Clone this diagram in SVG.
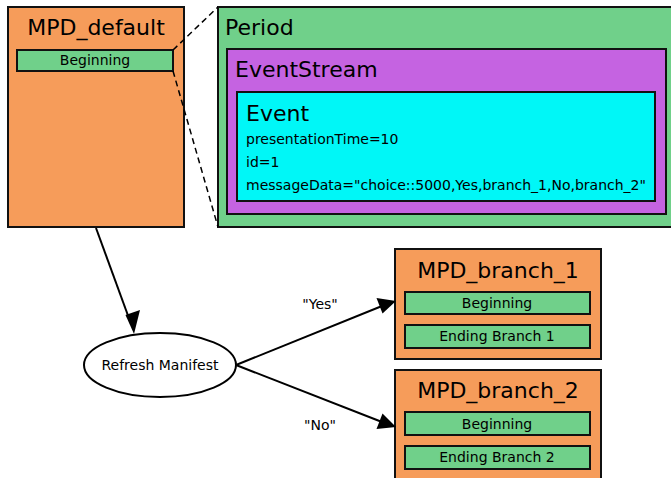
<svg xmlns="http://www.w3.org/2000/svg" width="671" height="478" viewBox="0 0 671 478">
  <style>
    text { font-family: "DejaVu Sans", sans-serif; fill: #000; }
    .box { stroke: #111; stroke-width: 2; }
    .mpd { fill: #f69c5a; }
    .seg { fill: #70d08a; }
    .title { font-size: 22px; }
    .small { font-size: 14px; }
    .mid { text-anchor: middle; }
    .edge { stroke: #000; stroke-width: 2; fill: none; }
    .dash { stroke: #000; stroke-width: 1.5; stroke-dasharray: 6 4; fill: none; }
    .head { fill: #000; }
  </style>

  <!-- default manifest -->
  <g id="mpd_default">
    <rect class="box mpd" x="8" y="7" width="176" height="220"/>
    <text class="title mid" x="96" y="35">MPD_default</text>
    <rect class="box seg" x="17" y="50" width="156" height="21"/>
    <text class="small mid" x="95" y="65">Beginning</text>
  </g>

  <!-- period detail -->
  <g id="period">
    <rect class="box seg" x="218" y="7" width="460" height="220"/>
    <text class="title" x="225" y="35">Period</text>
  </g>
  <g id="eventstream">
    <rect class="box" fill="#c563e1" x="227" y="49" width="439" height="165"/>
    <text class="title" x="235" y="77">EventStream</text>
  </g>
  <g id="event">
    <rect class="box" fill="#00f7f7" x="237" y="92" width="418" height="109"/>
    <text class="title" x="246" y="121">Event</text>
    <text class="small" x="246" y="144">presentationTime=10</text>
    <text class="small" x="246" y="167">id=1</text>
    <text class="small" x="246" y="190">messageData="choice::5000,Yes,branch_1,No,branch_2"</text>
  </g>

  <!-- decision -->
  <g id="refresh">
    <ellipse cx="160" cy="365" rx="76" ry="32" fill="#fff" stroke="#000" stroke-width="2"/>
    <text class="small mid" x="160" y="370">Refresh Manifest</text>
  </g>

  <!-- branch manifests -->
  <g id="mpd_branch_1">
    <rect class="box mpd" x="395" y="249" width="206" height="110"/>
    <text class="title mid" x="498" y="278">MPD_branch_1</text>
    <rect class="box seg" x="405" y="292" width="185" height="22"/>
    <text class="small mid" x="497" y="308">Beginning</text>
    <rect class="box seg" x="405" y="325" width="185" height="23"/>
    <text class="small mid" x="497" y="341">Ending Branch 1</text>
  </g>
  <g id="mpd_branch_2">
    <rect class="box mpd" x="395" y="370" width="206" height="120"/>
    <text class="title mid" x="498" y="398">MPD_branch_2</text>
    <rect class="box seg" x="405" y="412" width="185" height="23"/>
    <text class="small mid" x="497" y="429">Beginning</text>
    <rect class="box seg" x="405" y="446" width="185" height="23"/>
    <text class="small mid" x="497" y="462">Ending Branch 2</text>
  </g>

  <!-- connectors -->
  <g id="connectors">
    <line class="dash" x1="173" y1="50" x2="218" y2="7"/>
    <line class="dash" x1="173" y1="71" x2="218" y2="227"/>
    <line class="edge" x1="96" y1="228" x2="130" y2="321"/>
    <path class="head" d="M134,334 L125.5,315 L140,310 z"/>
    <line class="edge" x1="236" y1="365" x2="382" y2="306"/>
    <path class="head" d="M396,301 L376.5,298 L382.5,313.5 z"/>
    <line class="edge" x1="236" y1="365" x2="382" y2="422"/>
    <path class="head" d="M396,427 L382.5,413.5 L376.5,429 z"/>
    <text class="small mid" x="320" y="309">"Yes"</text>
    <text class="small mid" x="320" y="430">"No"</text>
  </g>
</svg>
